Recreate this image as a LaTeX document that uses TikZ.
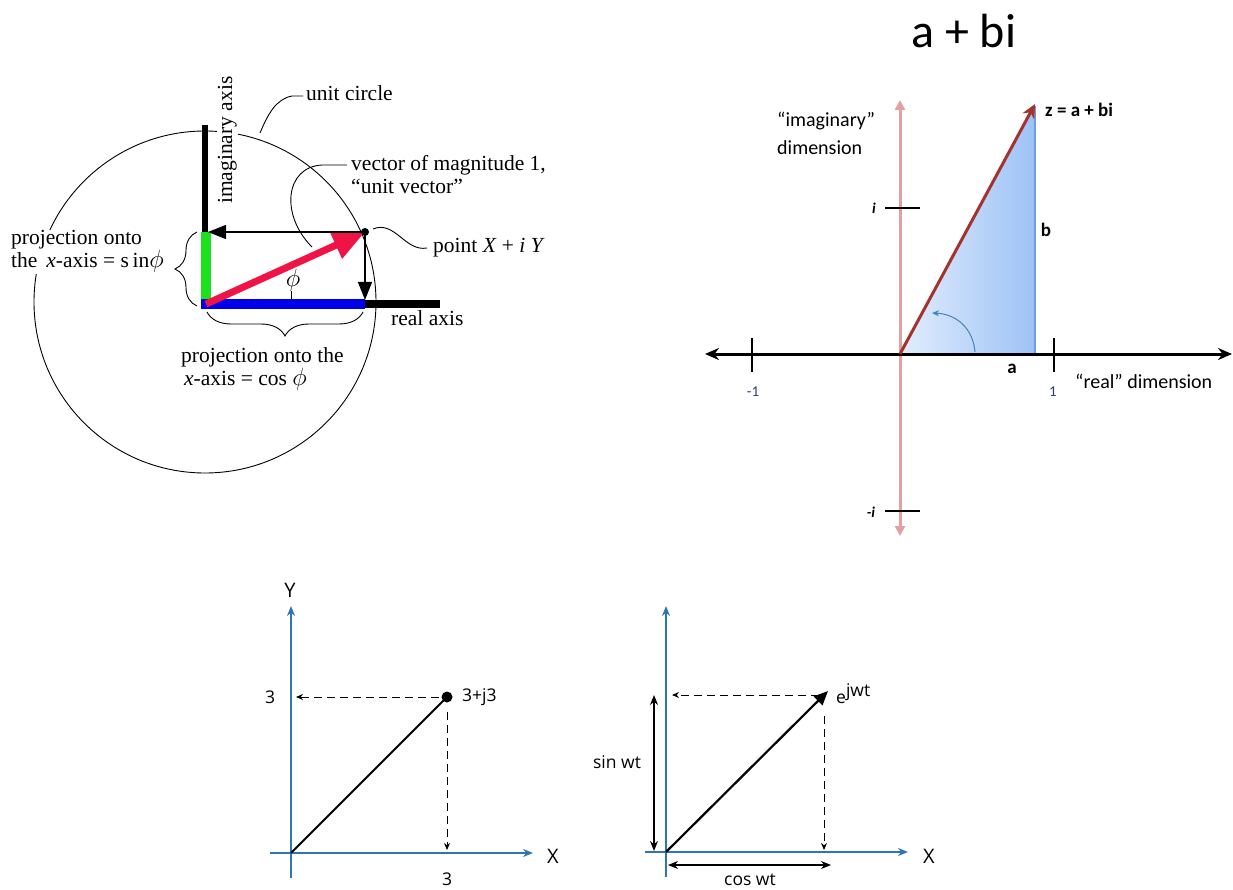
\documentclass[tikz,border=0pt]{standalone}
\usepackage{fontspec}
\setmainfont{Liberation Serif}
\newfontfamily\calfont{Carlito}
\newfontfamily\osfont{Open Sans}
\usetikzlibrary{arrows.meta,decorations.pathreplacing}
\definecolor{vred}{RGB}{240,20,70}
\definecolor{vgreen}{RGB}{30,225,30}
\definecolor{vblue}{RGB}{0,0,235}
\definecolor{pinkax}{RGB}{228,160,160}
\definecolor{brownv}{RGB}{165,50,45}
\definecolor{trilight}{RGB}{226,237,253}
\definecolor{tridark}{RGB}{158,194,246}
\definecolor{triedge}{RGB}{110,155,230}
\definecolor{arcblue}{RGB}{70,130,190}
\definecolor{ticknum}{RGB}{40,60,110}
\definecolor{axblue}{RGB}{46,117,182}
\begin{document}
\begin{tikzpicture}[x=1pt,y=-1pt,
  tltext/.style={font=\fontsize{21.5}{25}\selectfont, inner sep=1pt},
  tlmask/.style={tltext, fill=white},
  trtext/.style={font=\calfont\fontsize{20}{24}\selectfont, inner sep=0pt},
  trbold/.style={font=\calfont\bfseries\fontsize{19}{22}\selectfont, inner sep=0pt},
  bttext/.style={font=\osfont\fontsize{17.5}{20}\selectfont, inner sep=0pt},
  leader/.style={line width=0.9pt},
  thinarrow/.style={line width=1.2pt, -{Triangle[length=18pt,width=14pt]}},
  bluaxis/.style={axblue, line width=1.6pt, -{Stealth[length=10pt,width=8pt]}},
  dasharrow/.style={line width=0.9pt, dash pattern=on 8pt off 5pt, -{Stealth[length=7pt,width=6pt]}},
  dblarrow/.style={line width=1.5pt, {Stealth[length=10pt,width=8pt]}-{Stealth[length=10pt,width=8pt]}},
  bracedeco/.style={decorate, decoration={brace, amplitude=#1}, line width=0.9pt},
]
\useasboundingbox (0,0) rectangle (1233,890);

% ================= top left =================
\coordinate (C1) at (205,302);
\coordinate (O1) at (206,304);
\coordinate (P1) at (365,232);
\coordinate (ImTop) at (205,125);
\coordinate (ImBot) at (205,233);
\coordinate (GrTop) at (206,232);
\coordinate (GrBot) at (206,304);
\coordinate (BlL) at (201,304);
\coordinate (BlR) at (365,304);
\coordinate (ReR) at (440,304);
\coordinate (HorEnd) at (208,232);
\coordinate (VerEnd) at (365,300);
\draw[line width=0.9pt] (C1) circle[radius=171pt];

\node[tlmask, rotate=90, anchor=base west] (imlab) at (232,205) {imaginary axis};
\node[tlmask, anchor=base west] (proj1a) at (10,245) {projection onto};
\node[tlmask, anchor=base west] (proj1b) at (10,268) {the \,\textit{x}-axis = s\,in{\fontsize{25}{25}\selectfont$\phi$}};
\node[tltext, anchor=base west] (proj2a) at (180,362) {projection onto the};
\node[tltext, anchor=base west] (proj2b) at (183,385) {\textit{x}-axis = cos {\fontsize{25}{25}\selectfont$\phi$}};
\node[tltext, anchor=base west] (unitc) at (305,101) {unit circle};
\node[tltext, anchor=base west] (vec1) at (350,171) {vector of magnitude 1,};
\node[tltext, anchor=base west] (vec2) at (350,194) {“unit vector”};
\node[tltext, anchor=base west] (pt) at (432,253) {point \textit{X} + \textit{i Y}};
\node[tltext, anchor=base west] (real) at (390,325) {real axis};
\node[font=\fontsize{30}{30}\selectfont, inner sep=0pt] (phi) at (293,280) {$\phi$};

\draw[line width=6pt] (ImTop) -- (ImBot);
\draw[line width=10pt, vgreen] (GrTop) -- (GrBot);
\draw[line width=10pt, vblue] (BlL) -- (BlR);
\draw[line width=8pt] (BlR) -- (ReR);
\draw[line width=7pt, vred, -{Triangle[length=32pt,width=28pt]}] (O1) -- (P1);
\draw[thinarrow] (P1) -- (HorEnd);
\draw[thinarrow] (P1) -- (VerEnd);
\fill (P1) circle[radius=4pt];
\draw[leader] (291,291) coordinate (phiT) -- (291,299) coordinate (phiB);

\draw[bracedeco=22pt] (197,306) coordinate (brL1) -- (197,232) coordinate (brL2);
\draw[bracedeco=24pt] (363,312) coordinate (brB1) -- (207,312) coordinate (brB2);

\coordinate (ucA) at (303,96);
\coordinate (ucB) at (260,133);
\draw[leader] (ucA) -- (292,96) .. controls (276,99) and (268,114) .. (ucB);
\coordinate (vcA) at (347,165);
\coordinate (vcB) at (312,247);
\draw[leader] (vcA) -- (322,165) .. controls (285,167) and (280,215) .. (vcB);
\coordinate (ptA) at (373,229);
\coordinate (ptB) at (427,248);
\draw[leader] (ptA) .. controls (395,220) and (405,252) .. (ptB);

% ================= top right =================
\coordinate (O2) at (900,354);
\coordinate (A2) at (1035,354);
\coordinate (Z2) at (1035,104);
\coordinate (Z2t) at (1035,106);
\fill[left color=trilight, right color=tridark] (O2) -- (A2) -- (Z2t) -- cycle;
\draw[triedge, line width=1.2pt] (Z2t) -- (A2);
\coordinate (ImU) at (900,100);
\coordinate (ImD) at (900,536);
\draw[pinkax, line width=3pt, {Triangle[length=10pt,width=10pt]}-{Triangle[length=10pt,width=10pt]}] (ImD) -- (ImU);
\coordinate (ReL) at (705,354);
\coordinate (ReRt) at (1232,354);
\draw[line width=3pt, {Stealth[length=14pt,width=12pt]}-{Stealth[length=14pt,width=12pt]}] (ReL) -- (ReRt);
\draw[line width=2.5pt] (752,338) coordinate (tm1a) -- (752,372) coordinate (tm1b);
\draw[line width=2.5pt] (1054,338) coordinate (tp1a) -- (1054,372) coordinate (tp1b);
\draw[line width=2.5pt] (885,208) coordinate (tia) -- (920,208) coordinate (tib);
\draw[line width=2.5pt] (885,511) coordinate (tma) -- (920,511) coordinate (tmb);
\draw[brownv, line width=3pt, -{Stealth[length=14pt,width=13pt]}] (O2) -- (Z2);
\draw[arcblue, line width=1pt, -{Stealth[length=7pt,width=6pt]}] (975,352) coordinate (arA) .. controls (973,328) and (956,314) .. (932,313) coordinate (arB);

\node[font=\calfont\fontsize{48}{50}\selectfont, anchor=base west, inner sep=0pt] (title) at (911,48) {a + bi};
\node[trtext, anchor=base west] (imd1) at (777,127) {“imaginary”};
\node[trtext, anchor=base west] (imd2) at (777,155) {dimension};
\node[trtext, anchor=west] (red) at (1075,381) {“real” dimension};
\node[trbold, anchor=west] (zlab) at (1045,110) {z = a + bi};
\node[trbold] (blab) at (1046,230) {b};
\node[trbold] (alab) at (1012,369) {a};
\node[font=\calfont\bfseries\itshape\fontsize{15}{18}\selectfont] (ilab) at (874,208) {i};
\node[font=\calfont\bfseries\itshape\fontsize{15}{18}\selectfont] (milab) at (871,512) {-i};
\node[font=\calfont\fontsize{15}{17}\selectfont, text=ticknum] (m1lab) at (753,392) {-1};
\node[font=\calfont\fontsize{15}{17}\selectfont, text=ticknum] (p1lab) at (1053,392) {1};

% ================= bottom left =================
\coordinate (O3) at (291,853);
\coordinate (Yb3) at (291,878);
\coordinate (Yt3) at (291,606);
\coordinate (Xl3) at (270,853);
\coordinate (Xr3) at (533,853);
\coordinate (P3) at (447,697);
\draw[bluaxis] (Yb3) -- (Yt3);
\draw[bluaxis] (Xl3) -- (Xr3);
\draw[line width=2pt] (O3) -- (P3);
\fill (P3) circle[radius=5.5pt];
\draw[dasharrow] (439,697) coordinate (d3a) -- (296,697) coordinate (d3b);
\draw[dasharrow] (447,712) coordinate (d3c) -- (447,850) coordinate (d3d);
\node[bttext, font=\osfont\fontsize{20}{22}\selectfont] (Ylab) at (290,590) {Y};
\node[bttext, font=\osfont\fontsize{20}{22}\selectfont] (Xlab3) at (553,856) {X};
\node[bttext, anchor=west] (p3lab) at (462,697) {3+j3};
\node[bttext] (y3lab) at (270,697) {3};
\node[bttext] (x3lab) at (447,879) {3};

% ================= bottom right =================
\coordinate (O4) at (666,852);
\coordinate (Yb4) at (666,877);
\coordinate (Yt4) at (666,606);
\coordinate (Xl4) at (645,852);
\coordinate (Xr4) at (908,852);
\coordinate (P4) at (828,691);
\draw[bluaxis] (Yb4) -- (Yt4);
\draw[bluaxis] (Xl4) -- (Xr4);
\draw[line width=2.2pt, -{Triangle[length=14pt,width=12pt]}] (O4) -- (P4);
\draw[dasharrow] (819,695) coordinate (d4a) -- (672,695) coordinate (d4b);
\draw[dasharrow] (824,716) coordinate (d4c) -- (824,850) coordinate (d4d);
\draw[dblarrow] (654,695) coordinate (s4a) -- (654,851) coordinate (s4b);
\draw[dblarrow] (668,865) coordinate (c4a) -- (831,865) coordinate (c4b);
\node[bttext, font=\osfont\fontsize{20}{22}\selectfont] (Xlab4) at (929,856) {X};
\node[bttext, anchor=base west] (elab) at (836,703) {e\raisebox{7pt}{jwt}};
\node[bttext] (sinlab) at (617,762) {sin wt};
\node[bttext] (coslab) at (750,880) {cos wt};
\end{tikzpicture}
\end{document}
